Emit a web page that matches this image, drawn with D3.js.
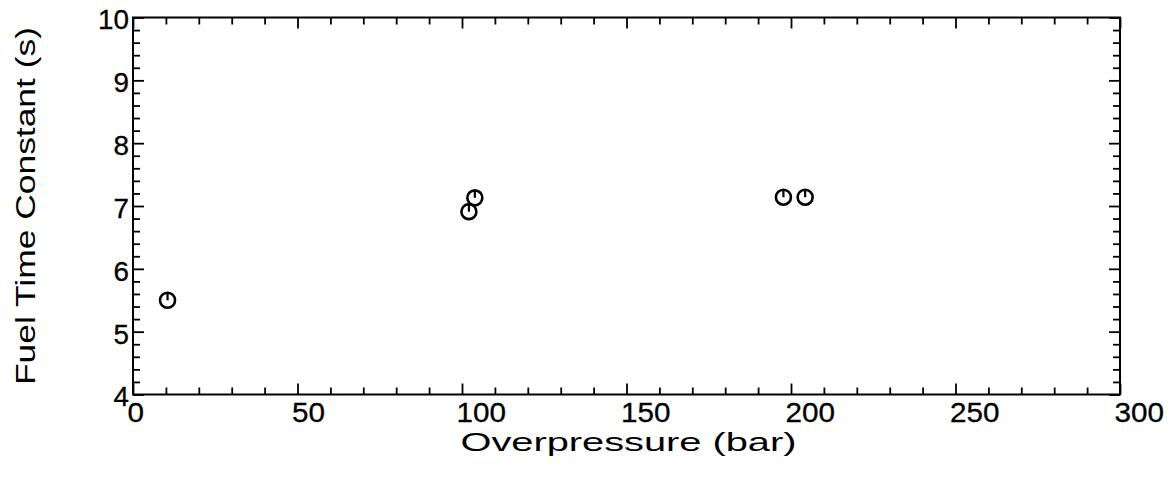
<!DOCTYPE html>
<html>
<head>
<meta charset="utf-8">
<script src="https://cdn.jsdelivr.net/npm/d3@7"></script>
<style>
  html, body { margin: 0; padding: 0; background: #fff; }
  svg { display: block; }
  text { font-family: "Liberation Sans", Arial, Helvetica, sans-serif; fill: #000; }
  .tick text { stroke: #000; stroke-width: 0.3px; }
</style>
</head>
<body>
<svg id="chart" width="1176" height="480"></svg>
<script>
// Measured fuel time constants versus overpressure
const overpressure = [10.5, 102.1, 103.9, 197.7, 204.3];
const timeConstant = [5.50, 6.91, 7.13, 7.14, 7.14];

const xMajorTicks = [0, 50, 100, 150, 200, 250, 300];
const yMajorTicks = [4, 5, 6, 7, 8, 9, 10];

const xTitle = "Overpressure (bar)";
const yTitle = "Fuel Time Constant (s)";

const svg = d3.select("#chart");
const plot = { left: 133, right: 1120, top: 17.5, bottom: 394.5 };

const x = d3.scaleLinear().domain([0, 300]).range([plot.left, plot.right]);
const y = d3.scaleLinear().domain([4, 10]).range([plot.bottom, plot.top]);

const xMinor = d3.range(0, 301, 10).filter(v => v % 50 !== 0);
const yMinor = d3.range(40, 101, 2).map(v => v / 10).filter(v => Math.abs(v - Math.round(v)) > 1e-6);

const MAJOR = 11, MINOR = 7;
const axisStyle = g => {
  g.select(".domain").remove();
  g.selectAll(".tick line").attr("stroke", "#000").attr("stroke-width", 1.8);
};

// Bottom axis: inward ticks, labels start just left of the tick
const gBottom = svg.append("g").attr("transform", `translate(0,${plot.bottom})`);
gBottom.call(d3.axisBottom(x).tickValues(xMajorTicks).tickSizeInner(-MAJOR).tickSizeOuter(0).tickPadding(0).tickFormat(d3.format("d")))
  .call(axisStyle);
gBottom.selectAll(".tick text")
  .attr("text-anchor", "start").attr("x", -6).attr("y", 0).attr("dy", "1.02em")
  .style("font-size", "27px").attr("textLength", d => String(d).length * 16.5).attr("lengthAdjust", "spacingAndGlyphs");
gBottom.append("g").call(d3.axisBottom(x).tickValues(xMinor).tickSizeInner(-MINOR).tickSizeOuter(0).tickFormat(""))
  .call(axisStyle);

// Top axis: ticks only
const gTop = svg.append("g").attr("transform", `translate(0,${plot.top})`);
gTop.call(d3.axisTop(x).tickValues(xMajorTicks).tickSizeInner(-MAJOR).tickSizeOuter(0).tickFormat("")).call(axisStyle);
gTop.append("g").call(d3.axisTop(x).tickValues(xMinor).tickSizeInner(-MINOR).tickSizeOuter(0).tickFormat("")).call(axisStyle);

// Left axis with labels
const gLeft = svg.append("g").attr("transform", `translate(${plot.left},0)`);
gLeft.call(d3.axisLeft(y).tickValues(yMajorTicks).tickSizeInner(-MAJOR).tickSizeOuter(0).tickPadding(0).tickFormat(d3.format("d")))
  .call(axisStyle);
gLeft.selectAll(".tick text")
  .attr("x", -4).attr("dy", "0.42em")
  .style("font-size", "27px").attr("textLength", d => String(d).length * 15.5).attr("lengthAdjust", "spacingAndGlyphs");
gLeft.append("g").call(d3.axisLeft(y).tickValues(yMinor).tickSizeInner(-MINOR).tickSizeOuter(0).tickFormat("")).call(axisStyle);

// Right axis: ticks only
const gRight = svg.append("g").attr("transform", `translate(${plot.right},0)`);
gRight.call(d3.axisRight(y).tickValues(yMajorTicks).tickSizeInner(-MAJOR).tickSizeOuter(0).tickFormat("")).call(axisStyle);
gRight.append("g").call(d3.axisRight(y).tickValues(yMinor).tickSizeInner(-MINOR).tickSizeOuter(0).tickFormat("")).call(axisStyle);

// Frame
svg.append("rect")
  .attr("x", plot.left).attr("y", plot.top)
  .attr("width", plot.right - plot.left).attr("height", plot.bottom - plot.top)
  .attr("fill", "none").attr("stroke", "#000").attr("stroke-width", 2);

// Axis titles
svg.append("text")
  .attr("x", (plot.left + plot.right) / 2 + 2).attr("y", 451)
  .attr("text-anchor", "middle")
  .style("font-size", "26px")
  .attr("textLength", 336).attr("lengthAdjust", "spacingAndGlyphs")
  .text(xTitle);

svg.append("text")
  .attr("transform", `translate(35,${(plot.top + plot.bottom) / 2}) rotate(-90)`)
  .attr("text-anchor", "middle")
  .style("font-size", "27px")
  .attr("textLength", 358).attr("lengthAdjust", "spacingAndGlyphs")
  .text(yTitle);

// Markers: open circle with a stroke from the rim to the centre
const pts = overpressure.map((v, i) => ({ p: v, t: timeConstant[i] }));
const R = 7.5;
const mk = svg.append("g").selectAll("g").data(pts).join("g")
  .attr("transform", d => `translate(${x(d.p)},${y(d.t)})`);
mk.append("circle").attr("r", R).attr("fill", "none").attr("stroke", "#000").attr("stroke-width", 2.6);
mk.append("line").attr("x1", 0).attr("y1", -R).attr("x2", 0).attr("y2", 0)
  .attr("stroke", "#000").attr("stroke-width", 2.2);
</script>
</body>
</html>
